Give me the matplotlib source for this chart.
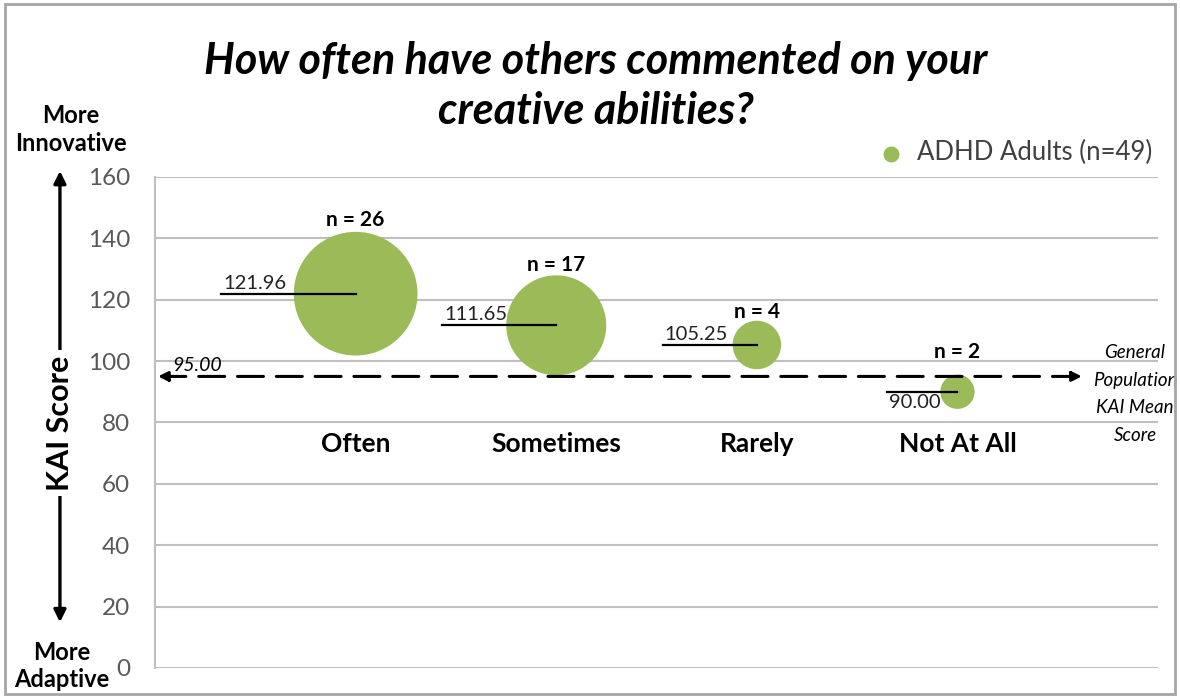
import matplotlib
matplotlib.use("Agg")
import matplotlib.pyplot as plt
from matplotlib.patches import Rectangle, FancyArrowPatch

plt.rcParams['font.family'] = ['Lato', 'DejaVu Sans']

categories = ["Often", "Sometimes", "Rarely", "Not At All"]
kai_means = [121.96, 111.65, 105.25, 90.00]
group_n = [26, 17, 4, 2]
population_mean = 95.00
y_ticks = [0, 20, 40, 60, 80, 100, 120, 140, 160]

green = "#9BBB59"
tick_grey = "#595959"
grid_grey = "#BFBFBF"

fig = plt.figure(figsize=(11.8, 6.98), dpi=100)
fig.patches.append(Rectangle((0.004, 0.006), 0.992, 0.988, transform=fig.transFigure,
                             fill=False, edgecolor="#A6A6A6", linewidth=2))
ax = fig.add_axes([0.1314, 0.043, 0.85, 0.7035])

x_pos = list(range(1, len(categories) + 1))
ax.set_xlim(0, 5)
ax.set_ylim(0, 160)
ax.set_yticks(y_ticks)
ax.set_xticks([])
ax.tick_params(axis="y", length=0, labelsize=17.5, labelcolor=tick_grey, pad=18)
ax.yaxis.grid(True, color=grid_grey, linewidth=1.5)
ax.set_axisbelow(True)
for side in ["top", "right", "bottom"]:
    ax.spines[side].set_visible(False)
ax.spines["left"].set_color(grid_grey)
ax.spines["left"].set_linewidth(1.5)

# bubbles sized by group size
sizes = [n * 305 for n in group_n]
ax.scatter(x_pos, kai_means, s=sizes, color=green, edgecolor="none",
           zorder=3, clip_on=False)

# value call-outs
label_offsets = [0.67, 0.57, 0.47, 0.35]
for x, y, off in zip(x_pos, kai_means, label_offsets):
    ax.plot([x - off, x], [y, y], color="black", linewidth=1.6, zorder=4)
    if y >= population_mean:
        ax.text(x - off + 0.01, y + 0.6, f"{y:.2f}", fontsize=14.5, ha="left", va="bottom",
                color="#222222", zorder=5)
    else:
        ax.text(x - off + 0.01, y - 0.8, f"{y:.2f}", fontsize=14.5, ha="left", va="top",
                color="#222222", zorder=5)

# n labels above each bubble
n_label_y = [146, 131.3, 116, 103]
for x, n, ly in zip(x_pos, group_n, n_label_y):
    ax.text(x, ly, f"n = {n}", fontsize=15, fontweight="bold", ha="center", va="center")

# category labels inside the plot
for x, c in zip(x_pos, categories):
    ax.text(x, 73, c, fontsize=19, fontweight="bold", ha="center", va="center")

# general population reference line
ax.annotate("", xy=(0.015, population_mean), xytext=(4.62, population_mean),
            arrowprops=dict(arrowstyle="<|-|>", color="black", linewidth=2.2,
                            linestyle=(0, (8.5, 4.2)), mutation_scale=14,
                            shrinkA=0, shrinkB=0), zorder=4)
ax.text(0.085, population_mean + 0.9, f"{population_mean:.2f}", fontsize=14,
        fontstyle="italic", ha="left", va="bottom")
ax.text(4.885, 89.2, "General\nPopulation\nKAI Mean\nScore", fontsize=13.5,
        fontstyle="italic", ha="center", va="center", linespacing=1.75, clip_on=False)

# legend
ax.scatter([], [], s=110, color=green, label="ADHD Adults (n=49)")
leg = ax.legend(loc="center right", bbox_to_anchor=(1.004, 1.049), frameon=False,
                fontsize=18.5, handletextpad=0.0, borderaxespad=0, markerscale=1)
for t in leg.get_texts():
    t.set_color("#404040")

# title
fig.text(0.505, 0.877, "How often have others commented on your\ncreative abilities?",
         fontsize=31, fontstyle="italic", fontweight="bold", ha="center", va="center",
         linespacing=1.3)

# y-axis label with direction arrows
axis_x = 0.0508
fig.text(axis_x, 0.394, "KAI Score", rotation=90, fontsize=22, fontweight="bold",
         ha="center", va="center",
         bbox=dict(facecolor="white", edgecolor="none", pad=4), zorder=5)
fig.patches.append(FancyArrowPatch(
    (axis_x, 0.394), (axis_x, 0.759), transform=fig.transFigure,
    arrowstyle="-|>", mutation_scale=18, color="black", linewidth=2.4, zorder=2))
fig.patches.append(FancyArrowPatch(
    (axis_x, 0.394), (axis_x, 0.1046), transform=fig.transFigure,
    arrowstyle="-|>", mutation_scale=18, color="black", linewidth=2.4, zorder=2))
fig.text(0.060, 0.815, "More\nInnovative", fontsize=17, fontweight="bold", ha="center",
         va="center", linespacing=1.25)
fig.text(0.0525, 0.046, "More\nAdaptive", fontsize=17, fontweight="bold", ha="center",
         va="center", linespacing=1.25)

fig.savefig("out.png", dpi=100)
